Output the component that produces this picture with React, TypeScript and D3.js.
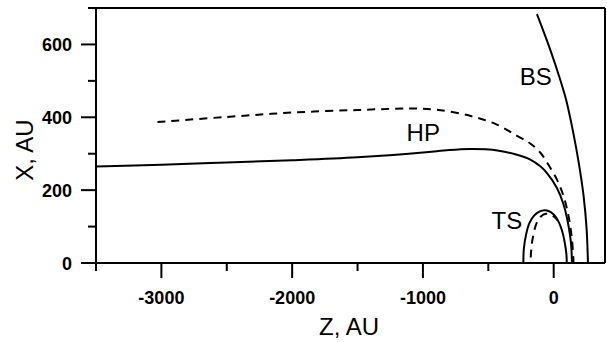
import React from "react";
import * as d3 from "d3";

// Data: [Z, X] in AU
const hpSolid: [number, number][] = [
  [-3500, 265], [-3000, 270], [-2500, 276], [-2000, 282], [-1500, 290], [-1000, 303],
  [-800, 310], [-640, 313], [-520, 312], [-420, 308], [-281, 297], [-179, 284],
  [-100, 265], [-51, 247], [25, 206], [76, 160], [114, 101], [132, 55], [140, 0],
];
const hpDashed: [number, number][] = [
  [-3030, 387], [-2500, 401], [-2000, 413], [-1500, 420], [-1100, 424], [-900, 421],
  [-640, 404], [-434, 380], [-281, 349], [-179, 328], [-100, 302], [-51, 276],
  [25, 229], [76, 183], [114, 128], [140, 64], [152, 0],
];
const bowShock: [number, number][] = [
  [-128, 683], [-26, 585], [50, 503], [95, 448], [145, 366], [192, 274],
  [229, 183], [252, 92], [262, 0],
];
const tsSolid: [number, number][] = [
  [-232, 0], [-228, 40], [-210, 80], [-185, 110], [-150, 130], [-110, 141],
  [-70, 145], [-35, 142], [0, 133], [35, 115], [63, 90], [85, 55], [97, 25], [100, 0],
];
const tsDashed: [number, number][] = [
  [-176, 15], [-168, 50], [-154, 80], [-130, 110], [-100, 127], [-60, 135],
  [-26, 133], [12, 124], [30, 117],
];

const xMajor = [-3000, -2000, -1000, 0];
const xMinor = [-3500, -2500, -1500, -500];
const yMajor = [0, 200, 400, 600];
const yMinor = [100, 300, 500, 700];

const labels = [
  { text: "BS", z: -260, x: 489 },
  { text: "HP", z: -1125, x: 336 },
  { text: "TS", z: -475, x: 92 },
];

export default function App() {
  const x = d3.scaleLinear().domain([-3500, 400]).range([96, 606]);
  const y = d3.scaleLinear().domain([0, 700]).range([263, 8]);
  const line = d3
    .line<[number, number]>()
    .x((d) => x(d[0]))
    .y((d) => y(d[1]))
    .curve(d3.curveCatmullRom.alpha(0.5));

  const font = "'Liberation Sans', Arial, sans-serif";
  const x0 = x.range()[0];
  const x1 = x.range()[1];
  const y0 = y.range()[0];
  const y1 = y.range()[1];

  return (
    <svg
      width={607}
      height={342}
      style={{ position: "absolute", left: 0, top: 0, background: "#fff" }}
      fontFamily={font}
    >
      <rect x={0} y={0} width={607} height={342} fill="#fff" />
      {/* curves */}
      <g fill="none" stroke="#000" strokeWidth={2}>
        <path d={line(hpSolid) || ""} />
        <path d={line(hpDashed) || ""} strokeDasharray="8,6" />
        <path d={line(bowShock) || ""} />
        <path d={line(tsSolid) || ""} />
        <path d={line(tsDashed) || ""} strokeDasharray="8,6" />
      </g>
      {/* frame */}
      <g stroke="#000" strokeWidth={2} fill="none">
        <line x1={x0} y1={y0} x2={x1 - 1} y2={y0} />
        <line x1={x0} y1={y0} x2={x0} y2={y1} />
        <line x1={x0} y1={y1} x2={x1 - 1} y2={y1} />
        <line x1={x1 - 1} y1={y1} x2={x1 - 1} y2={y0} />
        {xMajor.map((v) => (
          <line key={"xM" + v} x1={x(v)} x2={x(v)} y1={y0} y2={y0 + 15} />
        ))}
        {xMinor.map((v) => (
          <line key={"xm" + v} x1={x(v)} x2={x(v)} y1={y0} y2={y0 + 8} />
        ))}
        {yMajor.map((v) => (
          <line key={"yM" + v} x1={x0 - 15} x2={x0} y1={y(v)} y2={y(v)} />
        ))}
        {yMinor.map((v) => (
          <line key={"ym" + v} x1={x0 - 8} x2={x0} y1={y(v)} y2={y(v)} />
        ))}
      </g>
      {/* tick labels */}
      <g fontSize={18} fontWeight="bold" fill="#000">
        {xMajor.map((v) => (
          <text key={"xl" + v} x={x(v)} y={304} textAnchor="middle">
            {String(v)}
          </text>
        ))}
        {yMajor.map((v) => (
          <text key={"yl" + v} x={72} y={y(v) + 7} textAnchor="end">
            {String(v)}
          </text>
        ))}
      </g>
      {/* axis titles */}
      <text x={349} y={335} fontSize={24} textAnchor="middle" fill="#000">
        Z, AU
      </text>
      <text
        transform="translate(32.5,150) rotate(-90)"
        fontSize={24}
        textAnchor="middle"
        fill="#000"
      >
        X, AU
      </text>
      {/* curve labels */}
      {labels.map((l) => (
        <text key={l.text} x={x(l.z)} y={y(l.x)} fontSize={24} fill="#000">
          {l.text}
        </text>
      ))}
    </svg>
  );
}
